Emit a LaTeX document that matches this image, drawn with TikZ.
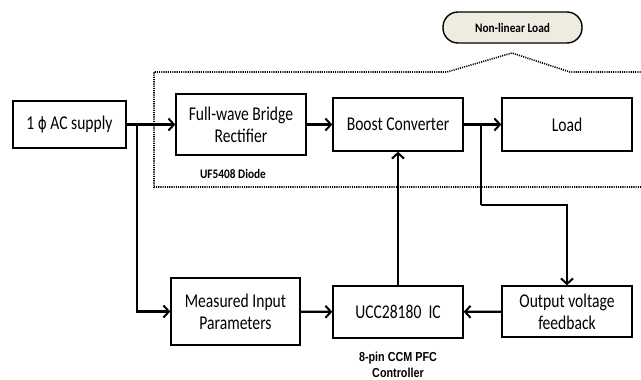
\documentclass[tikz,border=0pt]{standalone}
\usepackage{fontspec}
\setmainfont{Carlito}[FakeStretch=0.8]
\newfontfamily\notefont{Carlito}[FakeStretch=0.87]
\newfontfamily\labelfont{Liberation Sans}[FakeStretch=0.83]
\newfontfamily\phasefont{DejaVu Sans}[FakeStretch=0.8]
\usepackage{tikz}
\usetikzlibrary{arrows.meta}

\definecolor{pillfill}{RGB}{238,236,225}

\tikzset{
    block/.style={draw, line width=1.4pt, minimum width=130pt, align=center,
        inner sep=2pt, font=\fontsize{19.5}{22}\selectfont},
    flow/.style={line width=2.2pt, -{Straight Barb[length=5.5pt, width=12pt, line width=2pt]}},
    wire/.style={line width=2.2pt},
    region/.style={line width=1.6pt, dash pattern=on 1.1pt off 1.1pt},
}

\begin{document}
\begin{tikzpicture}[x=1pt, y=-1pt]
        \useasboundingbox (0,0) rectangle (641,380);
        % power path
        \node[block, minimum width=113pt, minimum height=47pt] (supply) at (69.5,124.5) {1 {\phasefont\fontsize{17}{22}\selectfont ϕ} AC supply};
        \node[block, minimum height=61pt] (rect) at (241,124.5) {Full-wave Bridge\\Rectifier};
        \node[block, minimum height=53pt] (boost) at (398,124.5) {Boost Converter};
        \node[block, minimum height=53pt] (load) at (567,124.5) {Load};
        % control path
        \node[block, minimum width=129pt, minimum height=67pt] (meas) at (235.5,311.5) {Measured Input\\Parameters};
        \node[block, minimum height=52pt] (ucc) at (398,312) {UCC28180~~IC};
        \node[block, minimum height=51pt] (fb) at (567,311.5) {Output voltage\\feedback};
        % notes
        \node[font=\notefont\bfseries\fontsize{13}{14}\selectfont] (diode) at (233,174) {UF5408 Diode};
        \node[font=\labelfont\bfseries\fontsize{13}{16}\selectfont, align=center] (ctrl) at (398,365) {8-pin CCM PFC\\Controller};
        \node[draw, line width=1.4pt, fill=pillfill, rounded corners=15pt, minimum width=139pt,
            minimum height=31pt, font=\notefont\bfseries\fontsize{13}{14}\selectfont] (nll) at (512.5,27.5) {Non-linear Load};

        % non-linear load region
        \draw[region] (645,72) -- (570,72) -- (512,53) -- (447,72) -- (154,72) -- (154,187) -- (645,187);

        \coordinate (sa) at (137,124.5);
        \coordinate (sb) at (481,124.5);
        \coordinate (fa) at (481,205);
        \coordinate (fc) at (567,205);

        \draw[flow] (supply) -- (rect);
        \draw[flow] (rect) -- (boost);
        \draw[flow] (boost) -- (load);
        \draw[flow] (sa) |- (meas);
        \draw[flow] (meas) -- (ucc);
        \draw[flow] (fb) -- (ucc);
        \draw[flow] (ucc) -- (boost);
        \draw[wire] (sb) -- (fa);
        \draw[flow] (fa) -- (fc) -- (fb);
    \end{tikzpicture}
\end{document}
